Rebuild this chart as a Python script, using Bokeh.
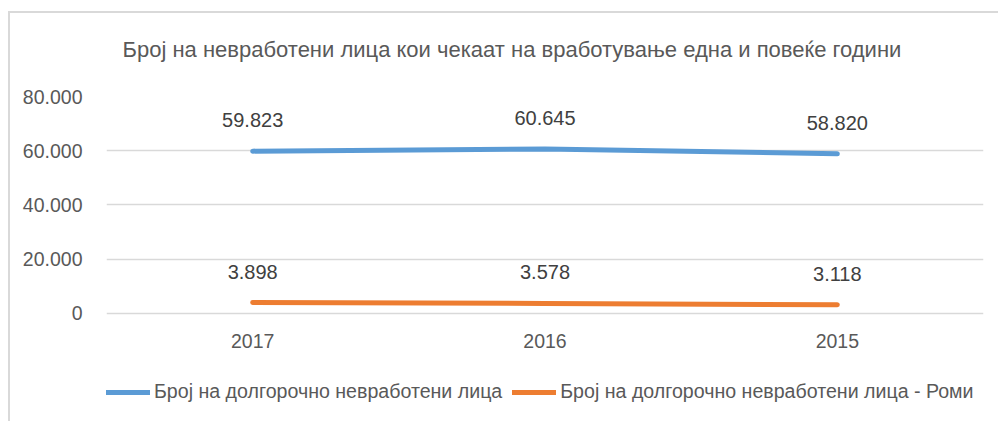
from bokeh.plotting import figure
from bokeh.models import (ColumnDataSource, FixedTicker, Legend, LegendItem, FactorRange, Range1d)
from bokeh.core.properties import value
from bokeh.embed import file_html
from bokeh.resources import INLINE

title_text = "Број на невработени лица кои чекаат на вработување една и повеќе години"
years = ["2017", "2016", "2015"]
total = [59823, 60645, 58820]
roma = [3898, 3578, 3118]
total_labels = ["59.823", "60.645", "58.820"]
roma_labels = ["3.898", "3.578", "3.118"]
series_names = ["Број на долгорочно невработени лица", "Број на долгорочно невработени лица - Роми"]
y_ticks = [0, 20000, 40000, 60000, 80000]
y_tick_labels = ["0", "20.000", "40.000", "60.000", "80.000"]

FONT = "Liberation Sans"
TXT = "#595959"
LBL = "#404040"
BLUE = "#5B9BD5"
ORANGE = "#ED7D31"

# the frame reaches down to the bottom so that the legend can sit inside it
p = figure(width=998, height=421, x_range=FactorRange(*years), y_range=Range1d(-40000, 80000),
           output_backend="svg", toolbar_location=None, x_axis_location="above",
           frame_width=877, frame_height=325,
           min_border_left=106, min_border_right=15, min_border_top=96, min_border_bottom=0)
p.outline_line_color = None
p.background_fill_alpha = 0
p.border_fill_alpha = 0
p.styles = {
    "background": "linear-gradient(#d9d9d9, #d9d9d9) 8px 11px / 2px 100% no-repeat, "
                  "linear-gradient(#d9d9d9, #d9d9d9) 8px 11px / 100% 2px no-repeat, white",
}

src = ColumnDataSource(dict(x=years, total=total, roma=roma, tl=total_labels, rl=roma_labels))
r1 = p.line("x", "total", source=src, line_color=BLUE, line_width=5, line_cap="round", line_join="round")
r2 = p.line("x", "roma", source=src, line_color=ORANGE, line_width=5, line_cap="round", line_join="round")

p.text("x", "total", text="tl", source=src, text_font=value(FONT), text_font_size="20px",
       text_color=LBL, text_align="center", text_baseline="middle", y_offset=-31)
p.text("x", "roma", text="rl", source=src, text_font=value(FONT), text_font_size="20px",
       text_color=LBL, text_align="center", text_baseline="middle", y_offset=-31)

p.yaxis.ticker = FixedTicker(ticks=y_ticks)
p.ygrid.ticker = FixedTicker(ticks=y_ticks)
p.yaxis.major_label_overrides = {t: l for t, l in zip(y_ticks, y_tick_labels)}
for ax in (p.xaxis[0], p.yaxis[0]):
    ax.axis_line_color = None
    ax.major_tick_line_color = None
    ax.minor_tick_line_color = None
    ax.major_label_text_font = FONT
    ax.major_label_text_font_size = "19.5px"
    ax.major_label_text_color = TXT
p.yaxis.major_label_standoff = 18
# category axis drawn just below the zero line (labels sit above this location)
p.xaxis.fixed_location = -16400
p.xaxis.major_label_standoff = 4
p.xgrid.grid_line_color = None
p.ygrid.grid_line_color = "#d9d9d9"
p.ygrid.grid_line_width = 1.3

p.title.text = title_text
p.title.align = "left"
p.title.offset = 16
p.title.text_font = FONT
p.title.text_font_size = "22px"
p.title.text_font_style = "normal"
p.title.text_color = TXT
p.title.standoff = 69

legend = Legend(items=[LegendItem(label=series_names[0], renderers=[r1]),
                       LegendItem(label=series_names[1], renderers=[r2])],
                orientation="horizontal", location=(0, 18),
                glyph_width=44, glyph_height=20, label_standoff=4, spacing=10, padding=0, margin=0,
                border_line_color=None, background_fill_alpha=0,
                label_text_font=FONT, label_text_font_size="19.6px", label_text_color=TXT)
p.add_layout(legend, "center")

open("out.html", "w").write(file_html(p, INLINE))
